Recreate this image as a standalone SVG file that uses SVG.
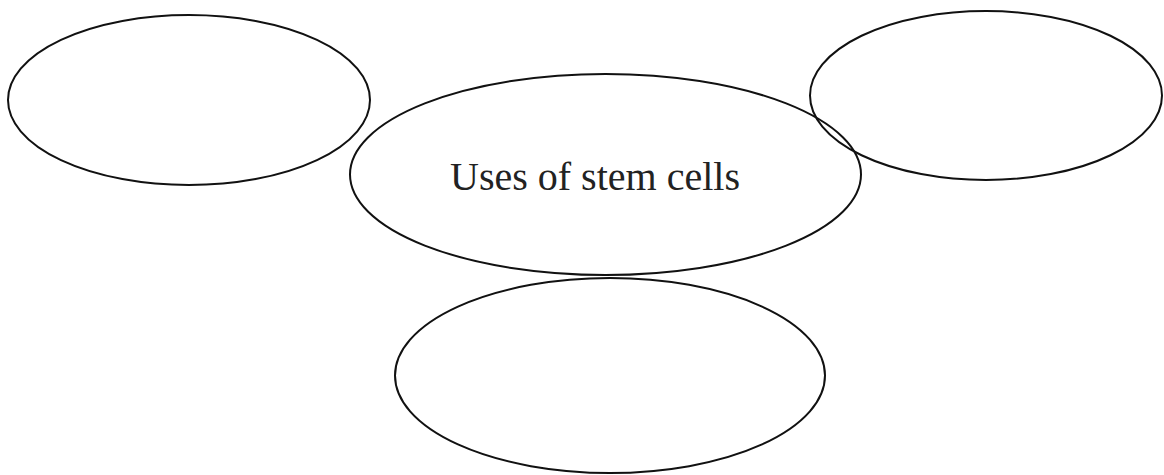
<svg xmlns="http://www.w3.org/2000/svg" width="1164" height="475" viewBox="0 0 1164 475">
  <style>
    .node { fill: none; stroke: #111; stroke-width: 2; }
    .label { font-family: "Liberation Serif", "Times New Roman", serif; font-size: 40px; fill: #222; }
  </style>
  <rect width="1164" height="475" fill="#ffffff"/>
  <g id="connectors"></g>
  <g id="node-top-left">
    <ellipse class="node" cx="189" cy="100" rx="181" ry="85"/>
  </g>
  <g id="node-top-right">
    <ellipse class="node" cx="986" cy="95.5" rx="176" ry="84.5"/>
  </g>
  <g id="node-center">
    <ellipse class="node" cx="605.5" cy="174.5" rx="255.5" ry="100.5"/>
    <text class="label" x="450" y="190">Uses of stem cells</text>
  </g>
  <g id="node-bottom">
    <ellipse class="node" cx="610" cy="375.5" rx="215" ry="97.5"/>
  </g>
</svg>
